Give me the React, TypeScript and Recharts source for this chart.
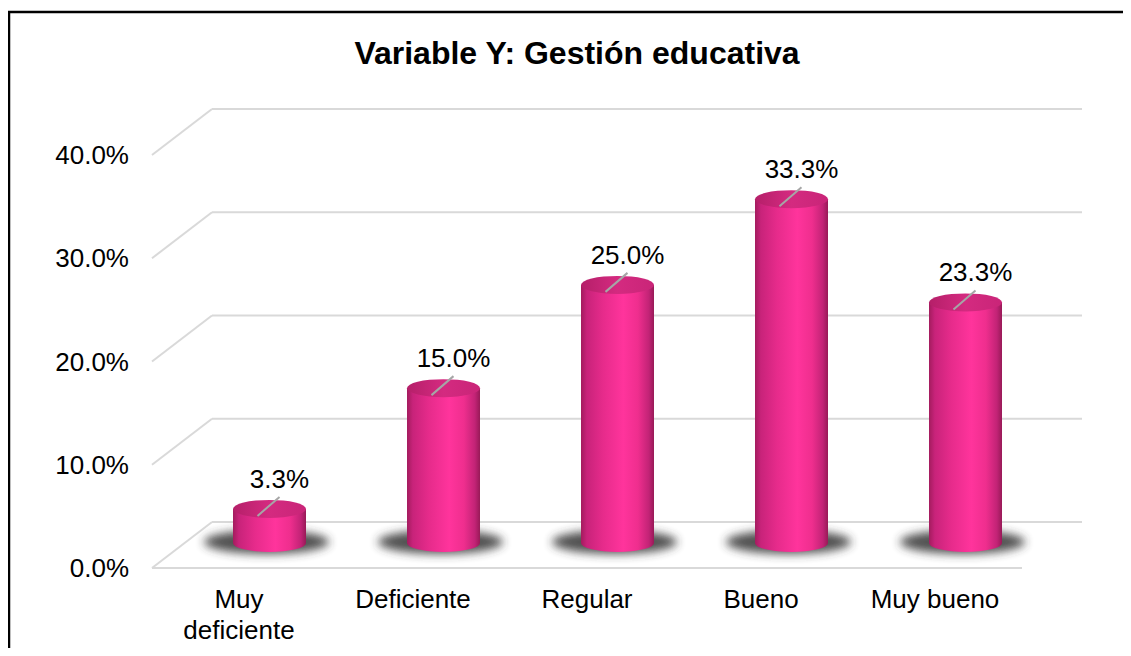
import React from 'react';
import { BarChart, Bar, XAxis, YAxis, CartesianGrid, LabelList, Customized } from 'recharts';

const categories = ['Muy deficiente', 'Deficiente', 'Regular', 'Bueno', 'Muy bueno'];
const percentages = [3.3, 15.0, 25.0, 33.3, 23.3];
const yTicks = [0, 10, 20, 30, 40];
const chartTitle = 'Variable Y: Gestión educativa';

const data = categories.map((c, i) => ({ name: c, value: percentages[i] }));

const W = 1123;
const H = 648;
const DEPTH_X = 60;
const DEPTH_Y = -46;
const BAR_DX = 30;
const BAR_DY = -25;
const FONT = '"Liberation Sans", Arial, sans-serif';
const GRID = '#d9d9d9';
const LABEL_SIZE = 26;
const WRAP_WIDTH = 150;

let measureCtx: CanvasRenderingContext2D | null = null;
const measure = (s: string) => {
  if (!measureCtx) {
    const c = document.createElement('canvas');
    measureCtx = c.getContext('2d');
  }
  if (!measureCtx) return s.length * LABEL_SIZE * 0.5;
  measureCtx.font = `${LABEL_SIZE}px "Liberation Sans", Arial, sans-serif`;
  return measureCtx.measureText(s).width;
};

const wrapWords = (s: string) => {
  const words = s.split(' ');
  const lines: string[] = [];
  let cur = '';
  words.forEach((w) => {
    const test = cur ? `${cur} ${w}` : w;
    if (cur && measure(test) > WRAP_WIDTH) {
      lines.push(cur);
      cur = w;
    } else {
      cur = test;
    }
  });
  if (cur) lines.push(cur);
  return lines;
};

const Cylinder = (props: any) => {
  const { x, y, width, height } = props;
  const cx = x + width / 2 + BAR_DX;
  const rx = width / 2;
  const ry = 9;
  const top = y + BAR_DY;
  const base = y + height + BAR_DY;
  return (
    <g>
      <ellipse cx={cx - 3} cy={base - 1} rx={rx + 26} ry={12} fill="#333" opacity={0.85} filter="url(#cylShadow)" />
      <path
        d={`M ${cx - rx} ${top} L ${cx - rx} ${base} A ${rx} ${ry} 0 0 0 ${cx + rx} ${base} L ${cx + rx} ${top} Z`}
        fill="url(#cylBody)"
      />
      <ellipse cx={cx} cy={top} rx={rx} ry={ry} fill="url(#cylTop)" />
    </g>
  );
};

const renderLabel = (props: any) => {
  const { x, y, width, value } = props;
  const cx = Number(x) + Number(width) / 2 + BAR_DX;
  const top = Number(y) + BAR_DY;
  const lx = cx + 10;
  const bl = top - 21;
  return (
    <g>
      <line x1={cx - 12} y1={top + 7} x2={lx} y2={bl + 9} stroke="#a6a6a6" strokeWidth={2} />
      <text x={lx} y={bl} textAnchor="middle" fontSize={LABEL_SIZE} fontFamily={FONT} fill="#000">
        {Number(value).toFixed(1)}%
      </text>
    </g>
  );
};

const gridLine = (p: any) => {
  const { x1, x2, y1 } = p;
  const isFloor = Math.abs(y1 - (p.y + p.height)) < 1;
  return (
    <g key={p.key}>
      <line x1={x1} y1={y1} x2={x1 + DEPTH_X} y2={y1 + DEPTH_Y} stroke={GRID} strokeWidth={2} />
      <line x1={x1 + DEPTH_X} y1={y1 + DEPTH_Y} x2={x2 + DEPTH_X} y2={y1 + DEPTH_Y} stroke={GRID} strokeWidth={2} />
      {isFloor && <line x1={x1} y1={y1} x2={x2} y2={y1} stroke={GRID} strokeWidth={2} />}
    </g>
  );
};

const CategoryTick = (props: any) => {
  const { x, y, payload } = props;
  const lines = wrapWords(String(payload.value));
  return (
    <text x={x} y={y} textAnchor="middle" fontSize={LABEL_SIZE} fontFamily={FONT} fill="#000">
      {lines.map((l, i) => (
        <tspan key={i} x={x} dy={i === 0 ? 18.5 : 31}>
          {l}
        </tspan>
      ))}
    </text>
  );
};

const Decor = () => (
  <g>
    <defs>
      <linearGradient id="cylBody" x1="0" y1="0" x2="1" y2="0">
        <stop offset="0" stopColor="#a31c5e" />
        <stop offset="0.08" stopColor="#c8237a" />
        <stop offset="0.3" stopColor="#e62b8b" />
        <stop offset="0.58" stopColor="#ff349c" />
        <stop offset="0.78" stopColor="#ef2e8e" />
        <stop offset="0.93" stopColor="#c22376" />
        <stop offset="1" stopColor="#981a57" />
      </linearGradient>
      <linearGradient id="cylTop" x1="0" y1="0" x2="1" y2="0">
        <stop offset="0" stopColor="#b51f69" />
        <stop offset="0.5" stopColor="#d42a80" />
        <stop offset="1" stopColor="#c92578" />
      </linearGradient>
      <filter id="cylShadow" x="-50%" y="-100%" width="200%" height="300%">
        <feGaussianBlur stdDeviation="5" />
      </filter>
    </defs>
    <path d={`M 1 ${H} V 4 H ${W}`} fill="none" stroke="#000" strokeWidth={2.5} />
    <text x={569} y={56} textAnchor="middle" fontSize={32} fontWeight="bold" fontFamily={FONT} fill="#000">
      {chartTitle}
    </text>
  </g>
);

export default function App() {
  return (
    <div style={{ width: W, height: H, marginBottom: -8, overflow: 'hidden', background: '#fff' }}>
      <BarChart width={W} height={H} data={data} margin={{ top: 147, right: 109, bottom: 28, left: 44 }}>
        <Customized component={<Decor />} />
        <CartesianGrid vertical={false} horizontal={gridLine} />
        <YAxis
          type="number"
          domain={[0, 40]}
          ticks={yTicks}
          width={100}
          axisLine={false}
          tickLine={false}
          tickSize={0}
          tickMargin={23}
          tickFormatter={(v: number) => `${v.toFixed(1)}%`}
          tick={{ fontSize: LABEL_SIZE, fill: '#000', fontFamily: FONT }}
        />
        <XAxis
          dataKey="name"
          height={60}
          axisLine={false}
          tickLine={false}
          tickSize={0}
          tickMargin={21}
          tick={<CategoryTick />}
          interval={0}
        />
        <Bar dataKey="value" barSize={73} shape={<Cylinder />} isAnimationActive={false}>
          <LabelList dataKey="value" content={renderLabel} />
        </Bar>
      </BarChart>
    </div>
  );
}
